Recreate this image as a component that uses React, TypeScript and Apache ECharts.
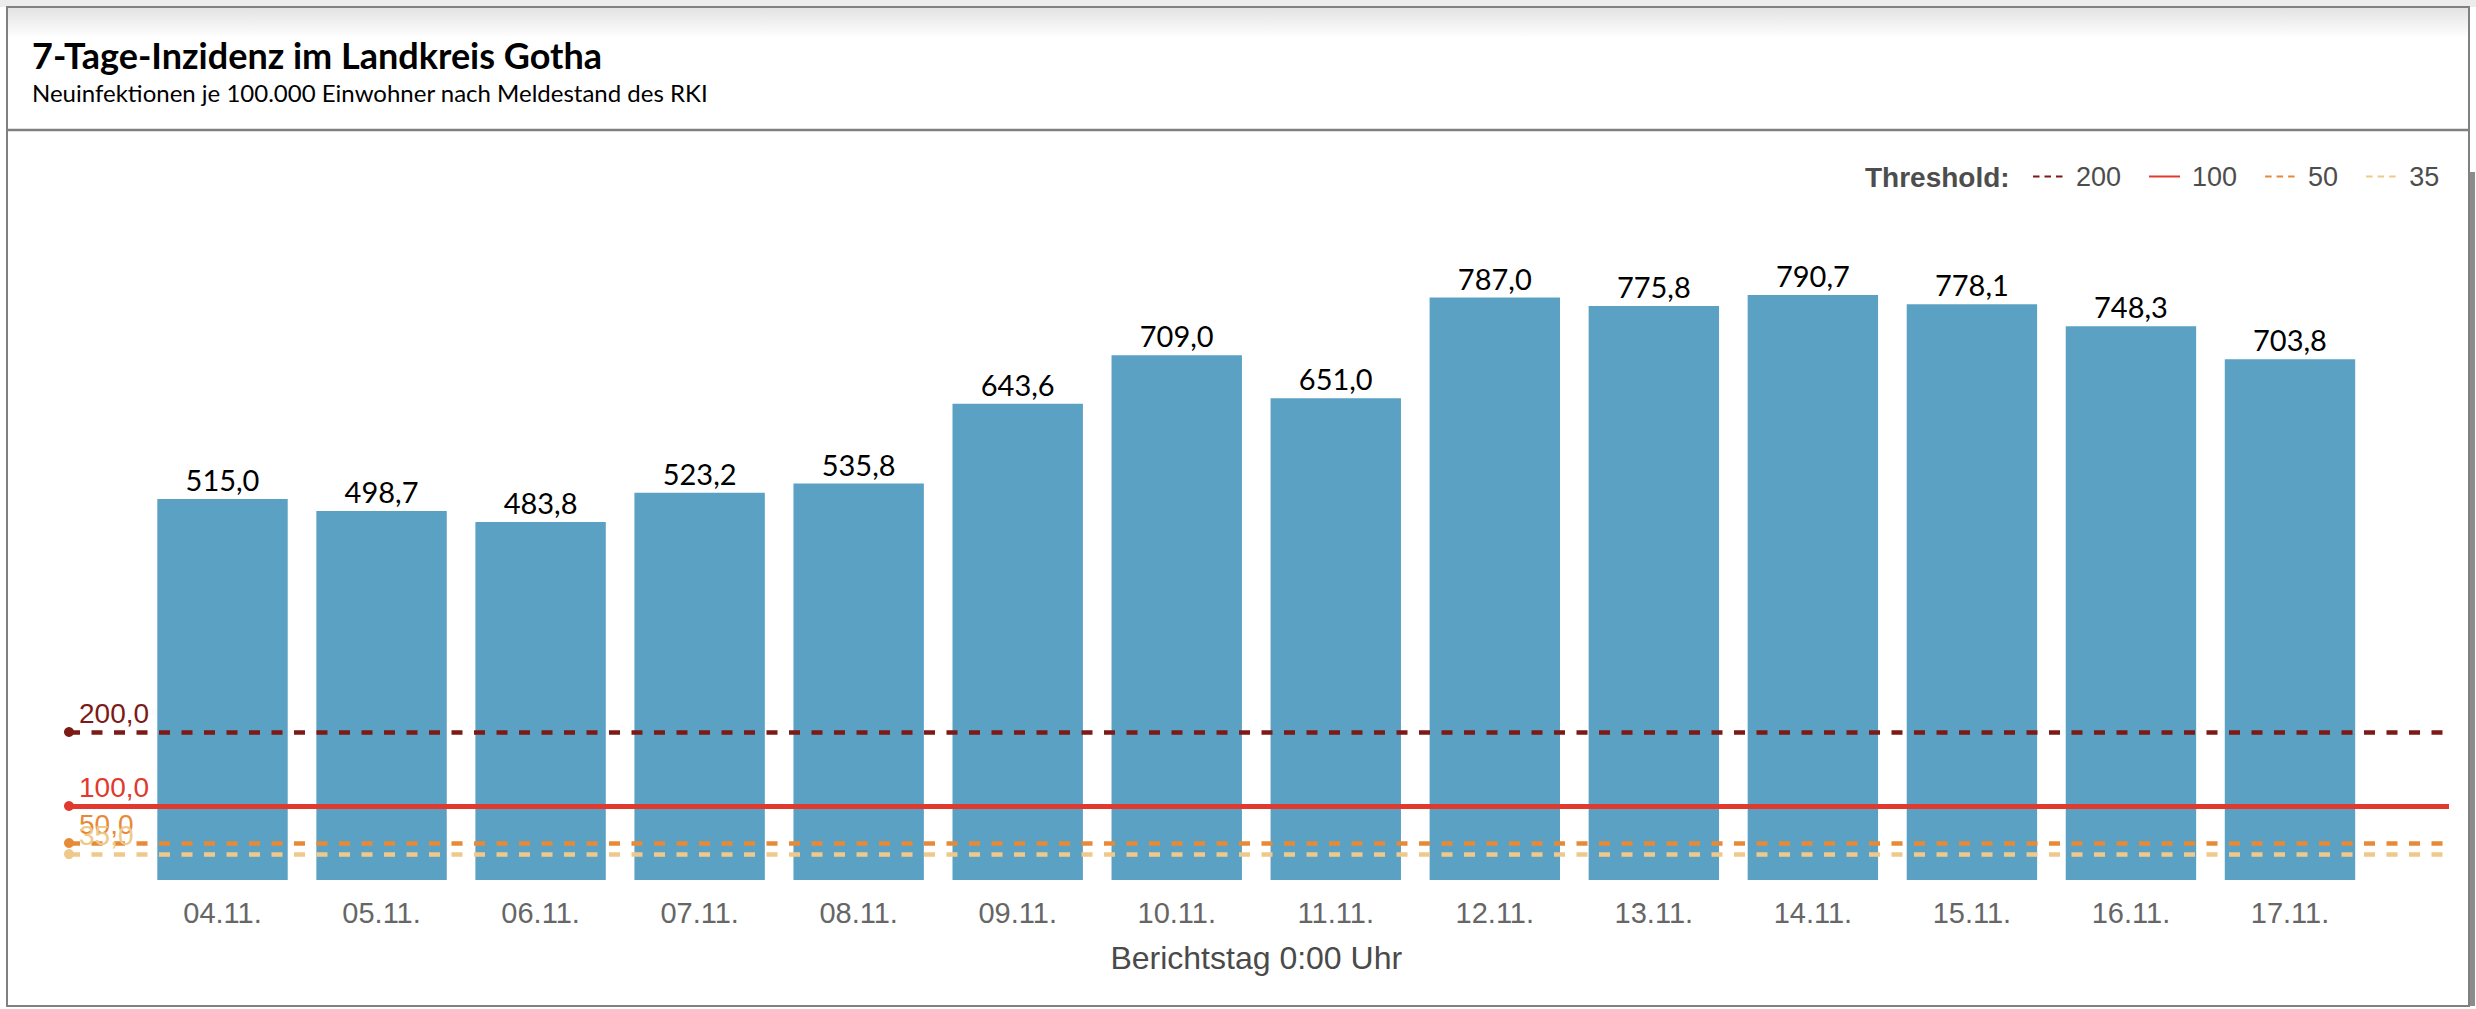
import React, { useEffect, useRef } from "react";
import * as echarts from "echarts";

const categories = [
  "04.11.", "05.11.", "06.11.", "07.11.", "08.11.", "09.11.", "10.11.",
  "11.11.", "12.11.", "13.11.", "14.11.", "15.11.", "16.11.", "17.11.",
];
const incidence = [
  515.0, 498.7, 483.8, 523.2, 535.8, 643.6, 709.0,
  651.0, 787.0, 775.8, 790.7, 778.1, 748.3, 703.8,
];
const thresholdValues = [200, 100, 50, 35];
const thresholdNames = ["200", "100", "50", "35"];
const thresholdColors = ["#7b1a17", "#e03a2e", "#e68a38", "#efc98b"];
const thresholdSolid = [false, true, false, false];

const TITLE = "7-Tage-Inzidenz im Landkreis Gotha";
const SUBTITLE = "Neuinfektionen je 100.000 Einwohner nach Meldestand des RKI";
const X_NAME = "Berichtstag 0:00 Uhr";

const W = 2476;
const H = 1009;
const SANS = "'Liberation Sans', Arial, Helvetica, sans-serif";
const LATO = "Lato, 'Noto Sans', sans-serif";

const fmt = (v: number) => v.toFixed(1).replace(".", ",");

export default function App() {
  const ref = useRef<HTMLDivElement | null>(null);

  useEffect(() => {
    if (!ref.current) return;
    const chart = echarts.init(ref.current, null, { renderer: "svg", width: W, height: H });

    const thresholdSeries = thresholdValues.map((v, i) => ({
      type: "line",
      name: thresholdNames[i],
      data: [],
      symbol: "none",
      z: 4,
      itemStyle: { color: thresholdColors[i] },
      lineStyle: {
        color: thresholdColors[i],
        width: 4,
        type: thresholdSolid[i] ? "solid" : [6.5, 5],
      },
      markLine: {
        silent: true,
        animation: false,
        symbol: ["circle", "none"],
        symbolSize: 10,
        lineStyle: {
          color: thresholdColors[i],
          width: thresholdSolid[i] ? 5 : 4.5,
          opacity: 1,
          type: thresholdSolid[i] ? "solid" : [11, 11.5],
        },
        label: {
          show: true,
          position: "insideStartTop",
          distance: [10, 5],
          formatter: () => fmt(v),
          color: thresholdColors[i],
          fontSize: 28,
          fontFamily: SANS,
        },
        emphasis: { disabled: true },
        data: [[{ yAxis: v, x: 69 }, { yAxis: v, x: 2449 }]],
      },
    }));

    chart.setOption({
      animation: false,
      backgroundColor: "#ffffff",
      grid: {
        left: 143,
        right: W - 2369.5,
        top: 140,
        bottom: H - 880,
        containLabel: false,
        outerBoundsMode: "none",
      },
      legend: {
        data: thresholdNames,
        left: 2032,
        top: 163,
        padding: 0,
        itemWidth: 31,
        itemHeight: 14,
        itemGap: 27,
        selectedMode: false,
        itemStyle: { opacity: 0 },
        textStyle: {
          color: "#4d4d4d",
          fontSize: 27,
          fontFamily: SANS,
          padding: [0, 0, 0, 7],
        },
      },
      xAxis: {
        type: "category",
        data: categories,
        axisLine: { show: false },
        axisTick: { show: false },
        splitLine: { show: false },
        axisLabel: { color: "#666666", fontSize: 29, margin: 18, fontFamily: SANS },
        name: X_NAME,
        nameLocation: "middle",
        nameGap: 62,
        nameTextStyle: { color: "#4a4a4a", fontSize: 32, fontFamily: SANS },
      },
      yAxis: { type: "value", min: 0, max: 1000, show: false, splitLine: { show: false } },
      series: [
        {
          type: "bar",
          name: "7-Tage-Inzidenz",
          data: incidence,
          barCategoryGap: "18%",
          z: 2,
          itemStyle: { color: "#5ba1c4" },
          label: {
            show: true,
            position: "top",
            distance: 5,
            formatter: (p: any) => fmt(p.value),
            color: "#000000",
            fontSize: 29,
            fontFamily: LATO,
          },
          emphasis: { disabled: true },
        },
        ...thresholdSeries,
      ],
      graphic: [
        { type: "rect", z: -10, shape: { x: 0, y: 0, width: W, height: 7 }, style: { fill: "#ececec" } },
        {
          type: "rect",
          z: -10,
          shape: { x: 8, y: 8, width: 2460, height: 30 },
          style: {
            fill: new echarts.graphic.LinearGradient(0, 0, 0, 1, [
              { offset: 0, color: "#e3e3e3" },
              { offset: 1, color: "#ffffff" },
            ]),
          },
        },
        {
          type: "rect",
          z: 10,
          shape: { x: 7, y: 7, width: 2462, height: 999 },
          style: { fill: "none", stroke: "#808080", lineWidth: 2 },
        },
        {
          type: "line",
          z: 10,
          shape: { x1: 8, y1: 130, x2: 2468, y2: 130 },
          style: { stroke: "#808080", lineWidth: 2.5 },
        },
        { type: "rect", z: 10, shape: { x: 2470, y: 172, width: 5, height: 834 }, style: { fill: "#8c8c8c" } },
        {
          type: "text",
          x: 32,
          y: 55,
          style: {
            text: TITLE,
            fontSize: 36,
            fontWeight: "bold",
            fontFamily: LATO,
            fill: "#000000",
            verticalAlign: "middle",
          },
        },
        {
          type: "text",
          x: 32,
          y: 92,
          style: {
            text: SUBTITLE,
            fontSize: 24,
            fontFamily: LATO,
            fill: "#000000",
            verticalAlign: "middle",
          },
        },
        {
          type: "text",
          x: 1865,
          y: 177,
          style: {
            text: "Threshold:",
            fontSize: 28,
            fontWeight: "bold",
            fontFamily: SANS,
            fill: "#4d4d4d",
            verticalAlign: "middle",
          },
        },
      ],
    });

    return () => chart.dispose();
  }, []);

  return (
    <div
      ref={ref}
      style={{ position: "absolute", left: 0, top: 0, width: W, height: H, background: "#fff" }}
    />
  );
}
